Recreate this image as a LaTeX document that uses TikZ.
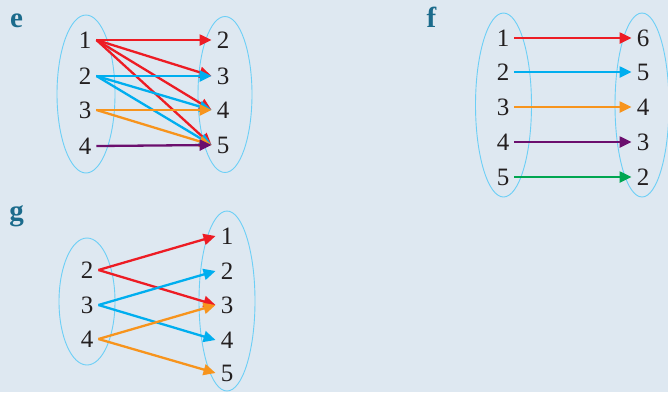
\documentclass[tikz,border=0pt]{standalone}
\usepackage{fontspec}
\setmainfont{Liberation Serif}
\usetikzlibrary{arrows.meta}
\definecolor{bg}{HTML}{DEE8F1}
\definecolor{ellc}{HTML}{6CCFF6}
\definecolor{labc}{HTML}{1B6B8C}
\definecolor{txt}{HTML}{231F20}
\definecolor{cred}{HTML}{ED1C24}
\definecolor{ccyan}{HTML}{00AEEF}
\definecolor{corange}{HTML}{F7941D}
\definecolor{cpurple}{HTML}{6B0F6E}
\definecolor{cgreen}{HTML}{00A651}
\begin{document}
\begin{tikzpicture}[x=1pt,y=-1pt,
  num/.style={inner sep=5pt, font=\fontsize{25}{30}\selectfont, text=txt},
  lab/.style={anchor=base, inner sep=0pt, font=\fontsize{29}{32}\selectfont\bfseries, text=labc},
  setline/.style={draw=ellc, line width=0.9pt},
  arr/.style={line width=2.3pt, -{Triangle[length=12pt,width=11pt]}},
]
\useasboundingbox (0,0) rectangle (668,392);
\fill[bg] (0,0) rectangle (668,392);
\clip (0,0) rectangle (668,392);

% ---------- panel e ----------
\node[lab] (le) at (16.5,27) {e};
\draw[setline] (86,94) ellipse [x radius=29pt, y radius=79pt];
\draw[setline] (225,94.5) ellipse [x radius=27pt, y radius=78pt];
\node[num] (e1) at (85,40) {1};
\node[num] (e2) at (85,76) {2};
\node[num] (e3) at (85,110) {3};
\node[num] (e4) at (85,146) {4};
\node[num] (E2) at (223,40) {2};
\node[num] (E3) at (223,76) {3};
\node[num] (E4) at (223,110) {4};
\node[num] (E5) at (223,145) {5};
\draw[arr,cred] (e1.east) -- (E2.west);
\draw[arr,cred] (e1.east) -- (E3.west);
\draw[arr,cred] (e1.east) -- (E4.west);
\draw[arr,cred] (e1.east) -- (E5.west);
\draw[arr,ccyan] (e2.east) -- (E3.west);
\draw[arr,ccyan] (e2.east) -- (E4.west);
\draw[arr,ccyan] (e2.east) -- (E5.west);
\draw[arr,corange] (e3.east) -- (E4.west);
\draw[arr,corange] (e3.east) -- (E5.west);
\draw[arr,cpurple] (e4.east) -- (E5.west);

% ---------- panel f ----------
\node[lab] (lf) at (431.5,27) {f};
\draw[setline] (503.5,105) ellipse [x radius=28pt, y radius=92pt];
\draw[setline] (642,105) ellipse [x radius=27pt, y radius=92pt];
\node[num] (f1) at (503,38) {1};
\node[num] (f2) at (503,72) {2};
\node[num] (f3) at (503,107) {3};
\node[num] (f4) at (503,142) {4};
\node[num] (f5) at (503,177) {5};
\node[num] (F6) at (643,38) {6};
\node[num] (F5) at (643,72) {5};
\node[num] (F4) at (643,107) {4};
\node[num] (F3) at (643,142) {3};
\node[num] (F2) at (643,177) {2};
\draw[arr,cred] (f1.east) -- (F6.west);
\draw[arr,ccyan] (f2.east) -- (F5.west);
\draw[arr,corange] (f3.east) -- (F4.west);
\draw[arr,cpurple] (f4.east) -- (F3.west);
\draw[arr,cgreen] (f5.east) -- (F2.west);

% ---------- panel g ----------
\node[lab] (lg) at (16.5,220) {g};
\draw[setline] (87,301.5) ellipse [x radius=28pt, y radius=63.5pt];
\draw[setline] (227,301) ellipse [x radius=28pt, y radius=90pt];
\node[num] (g2) at (87,270) {2};
\node[num] (g3) at (87,305) {3};
\node[num] (g4) at (87,339) {4};
\node[num] (G1) at (227,236) {1};
\node[num] (G2) at (227,271) {2};
\node[num] (G3) at (227,305) {3};
\node[num] (G4) at (227,340) {4};
\node[num] (G5) at (227,373) {5};
\draw[arr,cred] (g2.east) -- (G1.west);
\draw[arr,cred] (g2.east) -- (G3.west);
\draw[arr,ccyan] (g3.east) -- (G2.west);
\draw[arr,ccyan] (g3.east) -- (G4.west);
\draw[arr,corange] (g4.east) -- (G3.west);
\draw[arr,corange] (g4.east) -- (G5.west);
\end{tikzpicture}
\end{document}
